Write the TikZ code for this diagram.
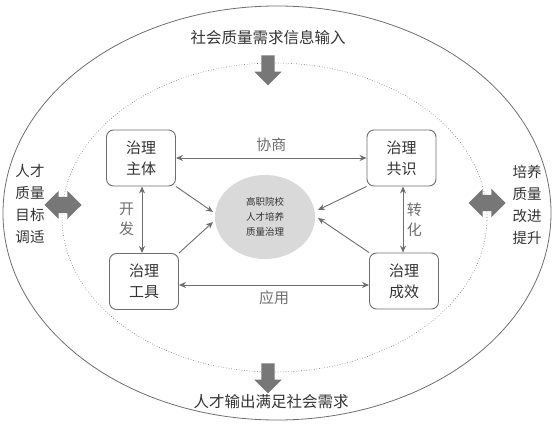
\documentclass[tikz,border=0pt]{standalone}
\usepackage{fontspec}
\setmainfont{Noto Sans CJK SC}
\usepackage{xcolor}
\usetikzlibrary{arrows.meta,shapes.arrows,shapes.geometric}
\definecolor{linegray}{HTML}{6E6E6E}
\definecolor{blockgray}{HTML}{777777}
\definecolor{txtgray}{HTML}{333333}
\definecolor{coregray}{HTML}{D9D9D9}

\begin{document}
\begin{tikzpicture}[x=1pt, y=-1pt, >={Stealth[length=7pt,width=6pt]},
  font=\fontsize{15}{21}\selectfont, text=txtgray,
  box/.style={draw=linegray, line width=0.9pt, rounded corners=7pt,
    minimum width=69pt, minimum height=56pt, align=center, inner sep=0pt},
  link/.style={<->, linegray, line width=0.9pt},
  feed/.style={->, linegray, line width=0.9pt},
  downarrow/.style={single arrow, fill=blockgray, draw=none,
    shape border rotate=270, minimum height=30pt, inner sep=6.5pt,
    single arrow head extend=7pt},
  sidearrow/.style={double arrow, fill=blockgray, draw=none,
    minimum height=37pt, inner sep=8pt, double arrow head extend=6pt}]
  \useasboundingbox (0,0) rectangle (556,427);
  % outer and inner rings
  \draw[linegray, line width=0.8pt] (277,213) ellipse (274pt and 207pt);
  \draw[linegray, dotted, line width=0.6pt] (274.5,217.5) ellipse (212.5pt and 154.5pt);
  % input / output
  \node[font=\fontsize{15.5}{21}\selectfont] (input) at (268,38) {社会质量需求信息输入};
  \node[downarrow] (inarrow) at (268,67) {};
  \node[downarrow] (outarrow) at (268,375) {};
  \node[font=\fontsize{15.5}{21}\selectfont] (output) at (271,402) {人才输出满足社会需求};
  % side adjustments
  \node[sidearrow] (leftarrow) at (63,205) {};
  \node[sidearrow] (rightarrow) at (487,203) {};
  \node[align=center, font=\fontsize{14.5}{22}\selectfont] (goal) at (30,204) {人才\\质量\\目标\\调适};
  \node[align=center, font=\fontsize{14.5}{22}\selectfont] (improve) at (527,205) {培养\\质量\\改进\\提升};
  % governance elements
  \node[box] (zhuti) at (141,158) {治理\\主体};
  \node[box] (gongshi) at (401.5,158) {治理\\共识};
  \node[box] (gongju) at (144,281.5) {治理\\工具};
  \node[box] (chengxiao) at (404,281) {治理\\成效};
  \node[ellipse, fill=coregray, minimum width=100pt, minimum height=84pt,
    align=center, font=\fontsize{9.5}{15}\selectfont] (core) at (265,217)
    {高职院校\\人才培养\\质量治理};
  % relations
  \draw[link] (zhuti.east |- 0,158) -- (gongshi.west |- 0,158)
    node[midway, above=3pt] (xieshang) {协商};
  \draw[link] (gongju.east |- 0,285) -- (chengxiao.west |- 0,285)
    node[midway, below=2pt] (yingyong) {应用};
  \draw[link] (zhuti.south -| 142,0) -- (gongju.north -| 142,0)
    node[midway, left=4pt, align=center, font=\fontsize{15}{20}\selectfont] (kaifa) {开\\发};
  \draw[link] (gongshi.south -| 403,0) -- (chengxiao.north -| 403,0)
    node[midway, right=0pt, align=center, font=\fontsize{15}{20}\selectfont] (zhuanhua) {转\\化};
  % towards the core
  \draw[feed] (zhuti.south east) -- (213,212);
  \draw[feed] (gongju.north east) -- (213,222);
  \draw[feed] (gongshi.south west) -- (318,210);
  \draw[feed] (chengxiao.north west) -- (318,218);
\end{tikzpicture}
\end{document}
